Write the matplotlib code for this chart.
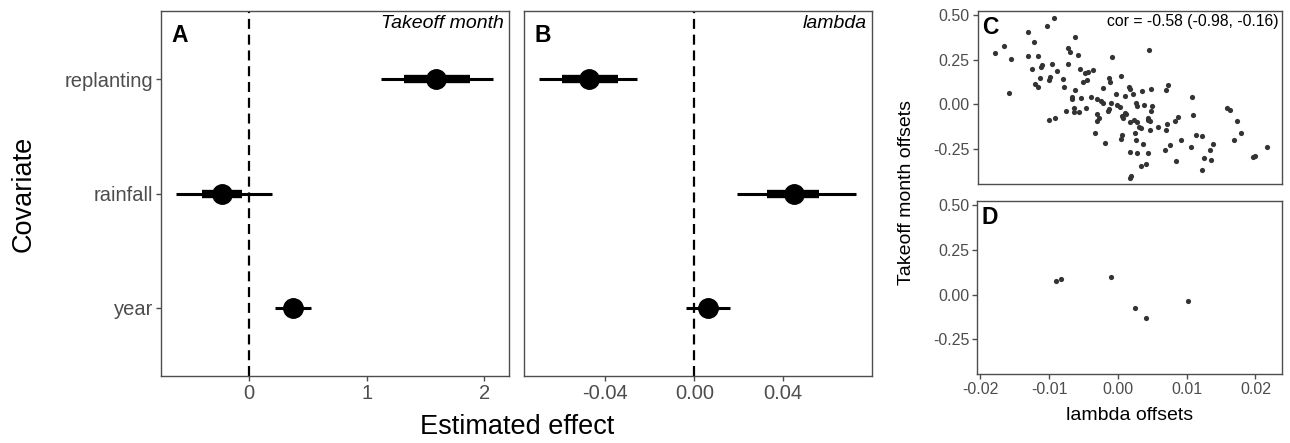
import matplotlib.pyplot as plt

plt.rcParams['font.family'] = ['Liberation Sans', 'DejaVu Sans']

# forest plot data (A: Takeoff month, B: lambda)
covariates = ['year', 'rainfall', 'replanting']
a_est = [0.37, -0.23, 1.59]
a_lo50 = [0.30, -0.40, 1.32]
a_hi50 = [0.44, -0.06, 1.875]
a_lo95 = [0.22, -0.62, 1.12]
a_hi95 = [0.53, 0.19, 2.07]

b_est = [0.0063, 0.0448, -0.0476]
b_lo50 = [0.0040, 0.0329, -0.0597]
b_hi50 = [0.0090, 0.0560, -0.0345]
b_lo95 = [-0.0037, 0.0191, -0.0698]
b_hi95 = [0.0161, 0.0727, -0.0259]

# panel C offsets
c_x = [-0.00932, -0.01034, -0.01314, -0.00633, -0.01667, -0.01792, -0.01565, -0.01227,
       -0.01309, -0.01174, -0.00739, -0.00700, -0.00580, 0.00444, -0.00087, -0.01594,
       -0.01261, -0.01111, -0.01126, -0.00971, -0.00734, -0.00560, -0.00894, -0.00488,
       -0.00435, -0.00362, -0.01014, -0.00990, -0.01135, -0.01213, -0.01169, -0.00807,
       -0.00797, -0.00459, -0.00507, -0.00633, -0.00676, -0.00681, -0.00541, -0.00135,
       -0.00121, 0.00034, -0.00222, -0.00391, -0.00304, -0.00217, -0.00034, 0.00150,
       0.00164, 0.00101, 0.00208, -0.00024, 0.00024, 0.00343, 0.00483, 0.00725,
       0.00691, 0.00261, 0.00271, 0.00372, 0.00493, 0.00478, 0.00430, -0.00643,
       -0.00647, -0.00758, -0.00570, -0.00464, -0.00314, -0.00150, -0.00285, -0.00304,
       -0.00130, 0.00048, 0.00072, 0.00097, 0.00111, 0.00169, 0.00232, 0.00266,
       0.00304, 0.00435, 0.00459, 0.00464, 0.00585, 0.00705, 0.00691, 0.00826,
       0.00865, 0.01072, 0.01087, -0.01014, -0.00923, -0.00338, -0.00198, 0.00039,
       0.00053, 0.00246, 0.00261, 0.00329, 0.00357, 0.00164, 0.00280, 0.00440,
       0.00749, 0.00681, 0.00918, 0.01135, 0.01222, 0.01058, 0.01382, 0.01338,
       0.01256, 0.01353, 0.00324, 0.00411, 0.00188, 0.00169, 0.00845, 0.01213,
       0.01580, 0.01628, 0.01725, 0.01783, 0.01691, 0.01966, 0.01995, 0.02174,
       -0.00106, -0.00256]
c_y = [0.483, 0.438, 0.405, 0.379, 0.325, 0.285, 0.256, 0.351,
       0.271, 0.271, 0.313, 0.293, 0.274, 0.302, 0.267, 0.063,
       0.200, 0.222, 0.211, 0.224, 0.224, 0.196, 0.185, 0.177,
       0.180, 0.190, 0.138, 0.151, 0.146, 0.116, 0.095, 0.142,
       0.095, 0.138, 0.123, 0.080, 0.041, 0.028, 0.035, 0.146,
       0.125, 0.159, 0.090, 0.039, 0.030, 0.006, 0.058, 0.097,
       0.088, 0.050, 0.058, -0.002, -0.015, 0.075, 0.088, 0.110,
       0.078, 0.007, -0.011, -0.004, -0.011, -0.039, -0.076, -0.017,
       -0.043, -0.039, -0.043, -0.022, -0.052, -0.035, -0.073, -0.093,
       -0.026, -0.065, -0.078, -0.047, -0.056, -0.099, -0.088, -0.099,
       -0.127, -0.084, -0.090, -0.142, -0.125, -0.110, -0.140, -0.093,
       -0.071, 0.039, -0.058, -0.084, -0.073, -0.160, -0.215, -0.194,
       -0.170, -0.159, -0.198, -0.132, -0.220, -0.263, -0.269, -0.271,
       -0.224, -0.252, -0.198, -0.172, -0.175, -0.239, -0.222, -0.256,
       -0.299, -0.310, -0.341, -0.330, -0.399, -0.410, -0.317, -0.366,
       -0.017, -0.030, -0.093, -0.160, -0.198, -0.293, -0.287, -0.237,
       0.007, 0.017]

# panel D offsets
d_x = [-0.00908, -0.00831, -0.00101, 0.00251, 0.00401, 0.01014]
d_y = [0.0746, 0.0858, 0.0970, -0.0765, -0.1306, -0.0354]

cor_text = 'cor = -0.58 (-0.98, -0.16)'

SPINE = '#4d4d4d'
TICK = '#4d4d4d'

fig = plt.figure(figsize=(12.9, 4.43), dpi=100)
axA = fig.add_axes([0.1248, 0.1512, 0.2698, 0.8240])
axB = fig.add_axes([0.4060, 0.1512, 0.2698, 0.8240])
axC = fig.add_axes([0.7578, 0.5847, 0.2357, 0.3905])
axD = fig.add_axes([0.7574, 0.1551, 0.2361, 0.3912])


def style(ax, size):
    for s in ax.spines.values():
        s.set_color(SPINE)
        s.set_linewidth(1.0)
    ax.tick_params(direction='out', length=3.6, width=1.0, color=SPINE,
                   labelcolor=TICK, labelsize=size, pad=2)


ypos = [1, 2, 3]
for ax, est, lo5, hi5, lo9, hi9 in [(axA, a_est, a_lo50, a_hi50, a_lo95, a_hi95),
                                    (axB, b_est, b_lo50, b_hi50, b_lo95, b_hi95)]:
    ax.axvline(0, color='black', lw=1.6, ls=(0, (4.5, 2.6)), zorder=1)
    ax.hlines(ypos, lo9, hi9, color='black', lw=2.2, zorder=2)
    ax.hlines(ypos, lo5, hi5, color='black', lw=6, zorder=3)
    ax.plot(est, ypos, 'o', color='black', ms=14, zorder=4)
    ax.set_ylim(0.4, 3.6)
    style(ax, 14.5)

axA.set_xlim(-0.75, 2.21)
axA.set_xticks([0, 1, 2])
axA.set_yticks(ypos)
axA.set_yticklabels(covariates)
axB.set_xlim(-0.0768, 0.0799)
axB.set_xticks([-0.04, 0.0, 0.04])
axB.set_xticklabels(['-0.04', '0.00', '0.04'])
axB.set_yticks([])

axA.text(0.03, 0.965, 'A', transform=axA.transAxes, fontsize=16.5,
         fontweight='bold', va='top', ha='left')
axA.text(0.985, 0.99, 'Takeoff month', transform=axA.transAxes, fontsize=14,
         style='italic', va='top', ha='right')
axB.text(0.03, 0.965, 'B', transform=axB.transAxes, fontsize=16.5,
         fontweight='bold', va='top', ha='left')
axB.text(0.985, 0.99, 'lambda', transform=axB.transAxes, fontsize=14,
         style='italic', va='top', ha='right')
fig.text(0.4005, 0.036, 'Estimated effect', fontsize=19.5, ha='center', va='center')
fig.text(0.018, 0.563, 'Covariate', fontsize=19.5, rotation=90, ha='center', va='center')

for ax, xs, ys in [(axC, c_x, c_y), (axD, d_x, d_y)]:
    ax.scatter(xs, ys, s=14, color='#333333', linewidths=0, zorder=3)
    ax.set_xlim(-0.0205, 0.0238)
    ax.set_ylim(-0.444, 0.522)
    ax.set_yticks([-0.25, 0, 0.25, 0.5])
    ax.set_yticklabels(['-0.25', '0.00', '0.25', '0.50'])
    ax.set_xticks([-0.02, -0.01, 0, 0.01, 0.02])
    style(ax, 11.5)

axC.set_xticks([])
axD.set_xticklabels(['-0.02', '-0.01', '0.00', '0.01', '0.02'])
axC.text(0.015, 0.97, 'C', transform=axC.transAxes, fontsize=16.5,
         fontweight='bold', va='top', ha='left')
axD.text(0.015, 0.97, 'D', transform=axD.transAxes, fontsize=16.5,
         fontweight='bold', va='top', ha='left')
axC.text(0.99, 0.985, cor_text, transform=axC.transAxes, fontsize=11.3,
         va='top', ha='right')
fig.text(0.8755, 0.063, 'lambda offsets', fontsize=14, ha='center', va='center')
fig.text(0.703, 0.565, 'Takeoff month offsets', fontsize=14, rotation=90,
         ha='center', va='center')

fig.savefig('out.png', dpi=100)
